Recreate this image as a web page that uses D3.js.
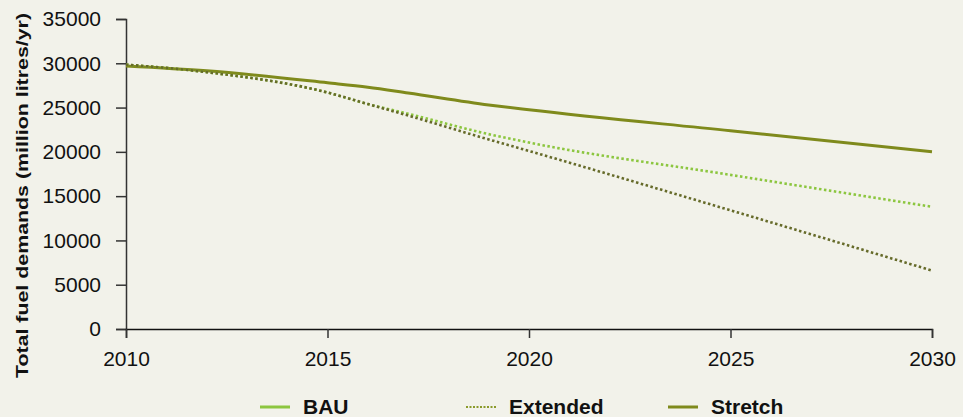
<!DOCTYPE html>
<html>
<head>
<meta charset="utf-8">
<script src="https://cdn.jsdelivr.net/npm/d3@7"></script>
<style>
  html, body { margin: 0; padding: 0; background: #f2f2ea; }
  svg { display: block; font-family: "Liberation Sans", Arial, sans-serif; }
</style>
</head>
<body>
<div id="chart"></div>
<script>
// data
var years = [2010, 2012, 2015, 2016, 2017, 2019, 2020, 2025, 2030];
var bau = [29850, 29000, 26700, 25400, 24300, 22000, 21050, 17400, 13800];
var extended = [29850, 29000, 26700, 25400, 24100, 21400, 20100, 13400, 6600];
var stretch = [29700, 29150, 27800, 27300, 26650, 25300, 24750, 22380, 20000];
var seriesNames = ['BAU', 'Extended', 'Stretch'];
var yTicks = [0, 5000, 10000, 15000, 20000, 25000, 30000, 35000];
var xTicks = [2010, 2015, 2020, 2025, 2030];

var width = 963;
var height = 417;
var margin = { top: 19, right: 31, bottom: 88, left: 126 };
var w = width - margin.left - margin.right;
var h = height - margin.top - margin.bottom;

var svg = d3.select('#chart').append('svg')
  .attr('width', width)
  .attr('height', height);

svg.append('rect').attr('width', width).attr('height', height).attr('fill', '#f2f2ea');

var g = svg.append('g').attr('transform', 'translate(' + margin.left + ',' + margin.top + ')');

var x = d3.scaleLinear().domain([2010, 2030]).range([0, w]);
var y = d3.scaleLinear().domain([0, 35000]).range([h, 0]);

// y軸
var yAxis = g.append('g')
  .call(d3.axisLeft(y).tickValues(yTicks).tickSize(10).tickPadding(15).tickFormat(d3.format('d')));
yAxis.select('.domain').attr('stroke', '#333').attr('stroke-width', 1.5);
yAxis.selectAll('.tick line').attr('stroke', '#333').attr('stroke-width', 1.5);
yAxis.selectAll('text').style('font-size', '21px').attr('fill', '#111');

// x軸
var xAxis = g.append('g')
  .attr('transform', 'translate(0,' + h + ')')
  .call(d3.axisBottom(x).tickValues(xTicks).tickSize(9).tickPadding(13).tickFormat(d3.format('d')));
xAxis.select('.domain').attr('stroke', '#111').attr('stroke-width', 1.5);
xAxis.selectAll('.tick line').attr('stroke', '#333').attr('stroke-width', 1.5);
xAxis.selectAll('text').style('font-size', '21px').attr('fill', '#111');

// y軸ラベル
svg.append('text')
  .attr('transform', 'translate(28,195.5) rotate(-90)')
  .attr('text-anchor', 'middle')
  .attr('textLength', 365)
  .attr('lengthAdjust', 'spacingAndGlyphs')
  .style('font-size', '17px')
  .style('font-weight', 'bold')
  .attr('fill', '#111')
  .text('Total fuel demands (million litres/yr)');

var line = d3.line()
  .x(function(d) { return x(d[0]); })
  .y(function(d) { return y(d[1]); })
  .curve(d3.curveMonotoneX);

var lines = [
  { key: 'Stretch', values: stretch, color: '#7f8a1c', width: 3, dash: null },
  { key: 'BAU', values: bau, color: '#8cc63f', width: 2.6, dash: '2.5,2.5' },
  { key: 'Extended', values: extended, color: '#666b2a', width: 2.6, dash: '2.5,2.5' }
];

g.selectAll('.series')
  .data(lines)
  .enter()
  .append('path')
  .attr('class', 'series')
  .attr('fill', 'none')
  .attr('stroke', function(d) { return d.color; })
  .attr('stroke-width', function(d) { return d.width; })
  .attr('stroke-dasharray', function(d) { return d.dash; })
  .attr('d', function(d) {
    return line(years.map(function(yr, i) { return [yr, d.values[i]]; }));
  });

// 凡例
var legendItems = [
  { name: seriesNames[0], x: 260, color: '#8cc63f', dash: null },
  { name: seriesNames[1], x: 466, color: '#8a9a2a', dash: '2,1.5' },
  { name: seriesNames[2], x: 668, color: '#7f8a1c', dash: null }
];
var legend = svg.append('g').attr('transform', 'translate(0,407)');
var item = legend.selectAll('g').data(legendItems).enter().append('g')
  .attr('transform', function(d) { return 'translate(' + d.x + ',0)'; });
item.append('line')
  .attr('x1', 0).attr('x2', 30).attr('y1', 0).attr('y2', 0)
  .attr('stroke', function(d) { return d.color; })
  .attr('stroke-width', function(d) { return d.dash ? 2 : 3; })
  .attr('stroke-dasharray', function(d) { return d.dash; });
item.append('text')
  .attr('x', 43).attr('y', 7)
  .style('font-size', '21px')
  .style('font-weight', 'bold')
  .attr('fill', '#111')
  .text(function(d) { return d.name; });
</script>
</body>
</html>
